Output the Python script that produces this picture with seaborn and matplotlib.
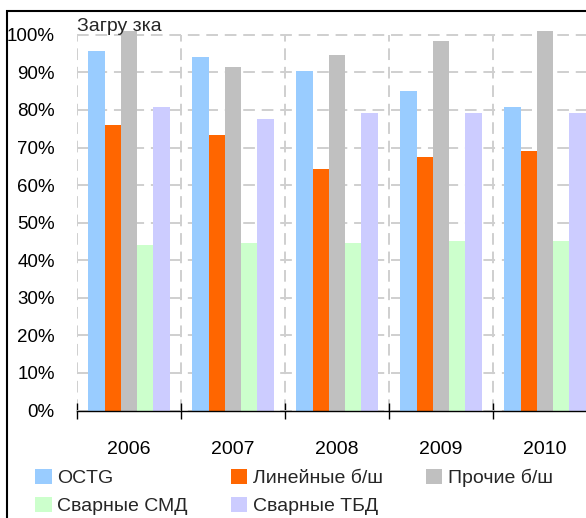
import numpy as np
import pandas as pd
import matplotlib.pyplot as plt
import seaborn as sns
from matplotlib.patches import Rectangle
from matplotlib.ticker import FixedLocator, PercentFormatter

# данные (доли загрузки мощностей)
years = ['2006', '2007', '2008', '2009', '2010']
series = ['OCTG', 'Линейные б/ш', 'Прочие б/ш', 'Сварные СМД', 'Сварные ТБД']
octg = [0.957, 0.941, 0.904, 0.851, 0.808]
line_pipe = [0.760, 0.733, 0.643, 0.675, 0.691]
other_pipe = [1.010, 0.915, 0.947, 0.984, 1.010]
welded_smd = [0.440, 0.446, 0.445, 0.451, 0.451]
welded_tbd = [0.808, 0.776, 0.792, 0.792, 0.792]
colors = ['#99CCFF', '#FF6600', '#C0C0C0', '#CCFFCC', '#CCCCFF']

df = pd.DataFrame({
    'year': years * 5,
    'series': np.repeat(series, len(years)),
    'value': octg + line_pipe + other_pipe + welded_smd + welded_tbd,
})

sns.set_theme(style='white')
plt.rcParams['font.family'] = ['Liberation Sans', 'DejaVu Sans']

W, H = 586, 518
fig = plt.figure(figsize=(W / 100, H / 100), dpi=100)
ax = fig.add_axes([77 / W, (H - 410.5) / H, 520 / W, (410.5 - 16) / H])

grid_color = '#CFCFCF'
ax.vlines(np.arange(-0.5, 5), 0, 1.0, colors=grid_color,
          linestyles=(0, (6, 3.5)), linewidth=1.4, zorder=0)
ax.yaxis.grid(True, color=grid_color, linestyle=(0, (6, 3.5)), linewidth=1.4)
ax.set_axisbelow(True)

sns.barplot(data=df, x='year', y='value', hue='series', hue_order=series,
            palette=colors, saturation=1, width=0.78, gap=0, linewidth=0,
            ax=ax)

ax.set_xlim(-0.5, 4.5)
ax.set_ylim(0, 1.05)
ax.set_yticks(np.arange(0, 1.01, 0.1))
ax.yaxis.set_major_formatter(PercentFormatter(1.0, decimals=0))
ax.set_xlabel('')
ax.set_ylabel('')

for s in ['left', 'top', 'right']:
    ax.spines[s].set_visible(False)
ax.spines['bottom'].set_color('black')
ax.spines['bottom'].set_linewidth(1.0)

ax.tick_params(axis='y', length=0, pad=16, labelsize=13.5, labelcolor='black')
ax.tick_params(axis='x', which='major', length=0, pad=22, labelsize=14,
               labelcolor='black')
ax.xaxis.set_minor_locator(FixedLocator(np.arange(-0.5, 5)))
ax.tick_params(axis='x', which='minor', direction='inout', length=11,
               width=1, color='black', bottom=True)

# легенда под графиком
handles, labels = ax.get_legend_handles_labels()
ax.get_legend().remove()
order = [0, 3, 1, 4, 2]
fig.legend([handles[i] for i in order], [labels[i] for i in order],
           loc='upper left', bbox_to_anchor=(35 / W, 1 - 469 / H),
           ncol=3, frameon=False, fontsize=14,
           handlelength=0.85, handleheight=0.8, handletextpad=0.3,
           columnspacing=2.2, labelspacing=0.5, borderpad=0, borderaxespad=0)

fig.text(77 / W, 1 - 31 / H, 'Загру зка', fontsize=14, va='baseline', ha='left')

# рамка
fig.patches.append(Rectangle((6.5 / W, -0.5), 2, 1.5 - 10.5 / H,
                             transform=fig.transFigure, fill=False,
                             edgecolor='black', linewidth=1.5))

fig.savefig('out.png', dpi=100)
